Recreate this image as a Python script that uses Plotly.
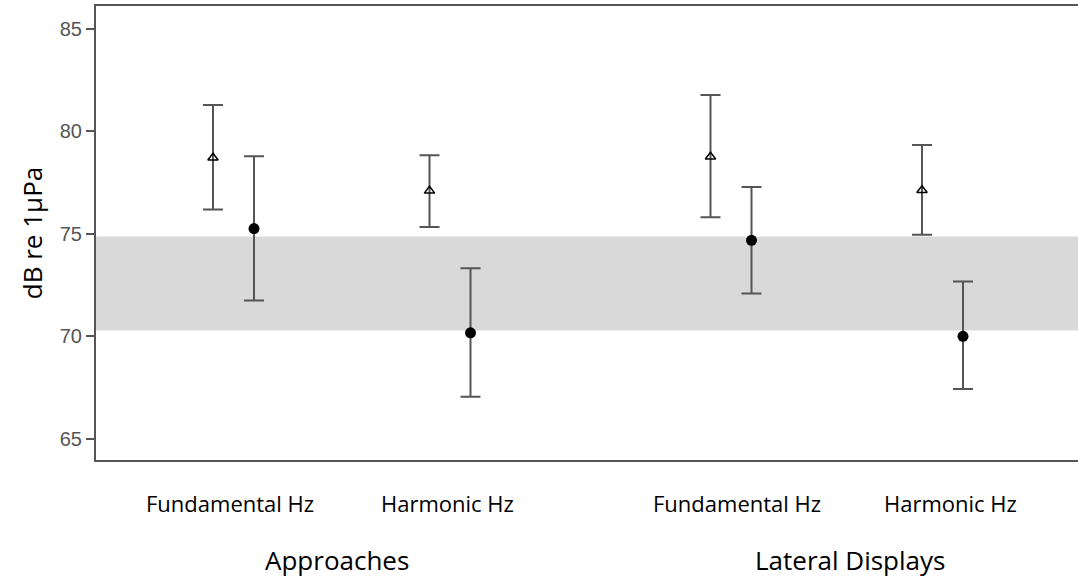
import plotly.graph_objects as go

# Sound levels (dB re 1µPa) by display type and frequency component
groups = ["Approaches", "Lateral Displays"]
components = ["Fundamental Hz", "Harmonic Hz", "Fundamental Hz", "Harmonic Hz"]

# open-triangle series
tri_mean = [78.70, 77.09, 78.75, 77.12]
tri_low = [76.18, 75.33, 75.80, 74.95]
tri_high = [81.28, 78.83, 81.76, 79.32]

# filled-circle series
dot_mean = [75.25, 70.17, 74.68, 70.00]
dot_low = [71.74, 67.05, 72.09, 67.43]
dot_high = [78.78, 73.32, 77.28, 72.67]

# reference band
band_low, band_high = 70.28, 74.87

y_ticks = [65, 70, 75, 80, 85]

# horizontal layout (x axis units)
slot_center = [1.375, 3.54, 6.35, 8.465]
pair_offset = 0.205
comp_label_x = [1.34, 3.51, 6.41, 8.54]
group_label_x = [2.41, 7.54]

err_color = "#555555"

fig = go.Figure()

fig.add_trace(go.Scatter(
    x=[c - pair_offset for c in slot_center],
    y=tri_mean,
    mode="markers",
    marker=dict(symbol="triangle-up-open", size=9, color="black",
                line=dict(width=1.5, color="black")),
    error_y=dict(type="data", symmetric=False,
                 array=[h - m for h, m in zip(tri_high, tri_mean)],
                 arrayminus=[m - l for m, l in zip(tri_mean, tri_low)],
                 color=err_color, thickness=2, width=10),
    showlegend=False,
))

fig.add_trace(go.Scatter(
    x=[c + pair_offset for c in slot_center],
    y=dot_mean,
    mode="markers",
    marker=dict(symbol="circle", size=11, color="black"),
    error_y=dict(type="data", symmetric=False,
                 array=[h - m for h, m in zip(dot_high, dot_mean)],
                 arrayminus=[m - l for m, l in zip(dot_mean, dot_low)],
                 color=err_color, thickness=2, width=10),
    showlegend=False,
))

fig.add_shape(type="rect", xref="paper", yref="y", x0=0, x1=1,
              y0=band_low, y1=band_high, fillcolor="#d9d9d9",
              line=dict(width=0), layer="below")

label_font = dict(family="Open Sans, Noto Sans, sans-serif", color="black")
for x, t in zip(comp_label_x, components):
    fig.add_annotation(x=x, xref="x", y=-0.0947, yref="paper", text=t,
                       showarrow=False, font=dict(size=22, **label_font),
                       yanchor="middle")
for x, t in zip(group_label_x, groups):
    fig.add_annotation(x=x, xref="x", y=-0.2203, yref="paper", text=t,
                       showarrow=False, font=dict(size=26, **label_font),
                       yanchor="middle")

fig.update_layout(
    width=1078, height=577,
    margin=dict(l=96, r=0, t=6, b=117),
    plot_bgcolor="white", paper_bgcolor="white",
    xaxis=dict(range=[0, 9.82], showgrid=False, zeroline=False,
               showticklabels=False, ticks="", showline=True,
               linecolor="#555555", linewidth=2, mirror=True),
    yaxis=dict(range=[63.97, 86.1], tickvals=y_ticks, showgrid=False,
               zeroline=False, ticks="outside", ticklen=8, tickwidth=1.5,
               tickcolor="#555555", showline=True, linecolor="#555555",
               linewidth=2,
               tickfont=dict(family="Liberation Sans, Arial, sans-serif",
                             size=20, color="#555555"),
               title=dict(text="dB re 1µPa", standoff=10,
                          font=dict(family="Open Sans, Noto Sans, sans-serif",
                                    size=26, color="black"))),
)

fig.write_html("out.html")
